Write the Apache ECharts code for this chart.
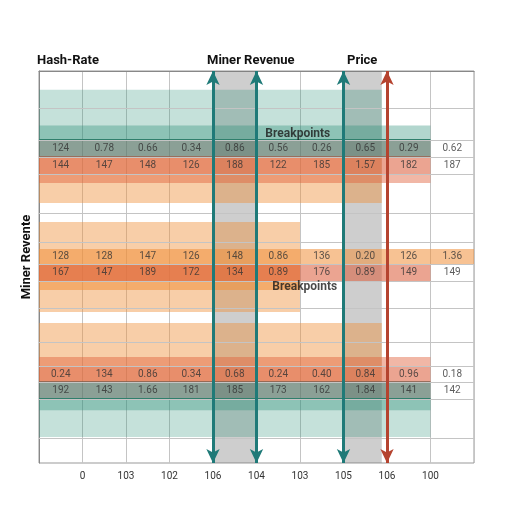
<!DOCTYPE html>
<html><head><meta charset="utf-8">
<script src="https://cdn.jsdelivr.net/npm/echarts@6/dist/echarts.min.js"></script>
<style>html,body{margin:0;padding:0;background:#fff}#c{width:512px;height:512px}</style>
</head><body><div id="c"></div>
<script>
// ---- data ----
const xTickLabels = ['', '0', '103', '102', '106', '104', '103', '105', '106', '100', ''];
const row1 = [124, 0.78, 0.66, 0.34, 0.86, 0.56, 0.26, 0.65, 0.29, 0.62];
const row2 = [144, 147, 148, 126, 188, 122, 185, 1.57, 182, 187];
const row3 = [128, 128, 147, 126, 148, 0.86, 136, 0.20, 126, 1.36];
const row4 = [167, 147, 189, 172, 134, 0.89, 176, 0.89, 149, 149];
const row5 = [0.24, 134, 0.86, 0.34, 0.68, 0.24, 0.40, 0.84, 0.96, 0.18];
const row6 = [192, 143, 1.66, 181, 185, 173, 162, 1.84, 141, 142];
const rowLevels = [4.55, 5.55, 10.89, 11.83, 17.78, 18.75];
const hGridLines = [2.17, 4.05, 5.05, 6.04, 8.33, 10.04, 11.33, 12.32, 13.91, 15.9, 17.31, 18.25, 19.25, 21.54];
// bands: [xStart, xEnd, yStart, yEnd, kind]
const bands = [
  [0, 7.88, 1.1, 4.05, 'tealLight'],
  [0, 9, 3.2, 4.05, 'teal'],
  [0, 7.88, 5.05, 7.75, 'peach'],
  [0, 9, 4.05, 5.05, 'slateTop'],
  [0, 9, 5.05, 6.04, 'salmon'],
  [0, 9, 6.04, 6.57, 'salmonLight'],
  [0, 6, 8.86, 14.14, 'peach'],
  [0, 6, 11.33, 12.85, 'orange'],
  [0, 10, 10.45, 11.33, 'orange'],
  [0, 9, 11.33, 12.32, 'salmon'],
  [0, 7.88, 14.79, 18.25, 'peach'],
  [0, 9, 16.78, 17.31, 'salmonLight'],
  [0, 9, 17.31, 18.25, 'salmon'],
  [0, 9, 19.25, 21.48, 'tealLight'],
  [0, 9, 19.25, 19.9, 'teal'],
  [0, 9, 18.25, 19.25, 'slateBottom']
];
const grayRanges = [[4, 5], [7, 7.88]];
const tealArrows = [4, 5, 7];
const redArrows = [8];
const notes = [['Breakpoints', 5.95, 3.7], ['Breakpoints', 6.11, 12.68]];
const headers = ['Hash-Rate', 'Miner Revenue', 'Price'];
const yName = 'Miner Revente';

// ---- styles ----
const bandFill = {
  tealLight: 'rgba(42,144,120,0.27)',
  teal: 'rgba(42,140,118,0.36)',
  slateTop: 'rgba(90,120,105,0.7)',
  slateBottom: 'rgba(90,120,105,0.7)',
  salmon: 'rgba(220,92,58,0.56)',
  salmonLight: 'rgba(224,96,58,0.45)',
  peach: 'rgba(240,144,58,0.44)',
  orange: 'rgba(240,144,58,0.55)'
};
const bandEdges = {
  slateTop: {top: ['#2f7f6c', 2], bottom: ['#9c5f4a', 1.5]},
  slateBottom: {top: ['#7a5d4e', 1.5], bottom: ['#2f7f6c', 2]}
};
const font = 'Roboto';

const rows = [row1, row2, row3, row4, row5, row6];
const cellData = [];
rows.forEach((r, ri) => r.forEach((v, ci) => cellData.push([ci + 0.5, rowLevels[ri], v])));

const chart = echarts.init(document.getElementById('c'), null, {renderer: 'canvas'});
const gridBox = {left: 39, right: 38, top: 71, bottom: 49};

chart.setOption({
  animation: false,
  backgroundColor: '#fff',
  title: [
    {text: headers[0], left: 37, top: 54},
    {text: headers[1], left: 207, top: 54},
    {text: headers[2], left: 347, top: 54}
  ].map(t => Object.assign(t, {padding: 0, textStyle: {fontFamily: font, fontSize: 13, fontWeight: 'bold', color: '#111'}})),
  grid: Object.assign({show: true, borderColor: '#999', borderWidth: 1, backgroundColor: 'transparent'}, gridBox),
  xAxis: {
    type: 'value', min: 0, max: 10, interval: 1,
    axisLine: {show: true, lineStyle: {color: '#888'}},
    axisTick: {show: false},
    splitLine: {show: true, lineStyle: {color: '#c4c4c4', width: 1}},
    axisLabel: {
      fontFamily: font, fontSize: 10, color: '#333', margin: 8,
      showMinLabel: true, showMaxLabel: true,
      formatter: v => xTickLabels[Math.round(v)] || ''
    }
  },
  yAxis: {
    type: 'value', min: 0, max: 23, inverse: true,
    axisLine: {show: true, lineStyle: {color: '#888'}},
    axisTick: {show: false}, axisLabel: {show: false}, splitLine: {show: false}
  },
  graphic: [{
    type: 'text', x: 27, y: 257, rotation: Math.PI / 2,
    style: {text: yName, font: 'bold 13px Roboto', fill: '#111', textAlign: 'center', textVerticalAlign: 'middle'}
  }],
  series: [
    {
      type: 'line', data: [], z: 1, silent: true,
      markLine: {
        silent: true, symbol: 'none', label: {show: false},
        lineStyle: {color: '#c4c4c4', width: 1, type: 'solid'},
        data: hGridLines.map(v => ({yAxis: v}))
      }
    },
    {
      type: 'custom', z: 2, silent: true,
      data: bands.map(b => ({value: b.slice(0, 4), kind: b[4]})),
      encode: {x: [0, 1], y: [2, 3]},
      renderItem: (params, api) => {
        const kind = bands[params.dataIndex][4];
        const p0 = api.coord([api.value(0), api.value(2)]);
        const p1 = api.coord([api.value(1), api.value(3)]);
        const children = [{
          type: 'rect',
          shape: {x: p0[0], y: p0[1], width: p1[0] - p0[0], height: p1[1] - p0[1]},
          style: {fill: bandFill[kind]}
        }];
        const e = bandEdges[kind];
        if (e) {
          children.push({type: 'line', shape: {x1: p0[0], y1: p0[1], x2: p1[0], y2: p0[1]}, style: {stroke: e.top[0], lineWidth: e.top[1]}});
          children.push({type: 'line', shape: {x1: p0[0], y1: p1[1], x2: p1[0], y2: p1[1]}, style: {stroke: e.bottom[0], lineWidth: e.bottom[1]}});
        }
        return {type: 'group', children};
      }
    },
    {
      type: 'line', data: [], z: 3, silent: true,
      markArea: {
        silent: true,
        itemStyle: {color: 'rgba(120,120,120,0.36)'},
        data: grayRanges.map(r => [{xAxis: r[0]}, {xAxis: r[1]}])
      }
    },
    {
      type: 'line', data: [], z: 4, silent: true,
      markLine: {
        silent: true, symbol: ['arrow', 'arrow'], symbolSize: [10, 14], label: {show: false},
        lineStyle: {color: '#1f7a78', width: 3, type: 'solid'},
        data: tealArrows.map(v => ({xAxis: v}))
      }
    },
    {
      type: 'line', data: [], z: 4, silent: true,
      markLine: {
        silent: true, symbol: ['arrow', 'arrow'], symbolSize: [10, 14], label: {show: false},
        lineStyle: {color: '#b5432f', width: 3, type: 'solid'},
        data: redArrows.map(v => ({xAxis: v}))
      }
    },
    {
      type: 'scatter', z: 5, silent: true, symbolSize: 0,
      data: cellData,
      label: {
        show: true, position: 'inside', fontFamily: font, fontSize: 10, color: '#333',
        formatter: p => { const v = p.value[2]; return v < 10 ? v.toFixed(2) : String(v); }
      }
    },
    {
      type: 'scatter', z: 6, silent: true, symbolSize: 0,
      data: notes.map(n => ({name: n[0], value: [n[1], n[2]]})),
      label: {show: true, position: 'inside', fontFamily: font, fontSize: 12, fontWeight: 'bold', color: '#1a1a1a', formatter: p => p.name}
    }
  ]
});
</script>
</body></html>
